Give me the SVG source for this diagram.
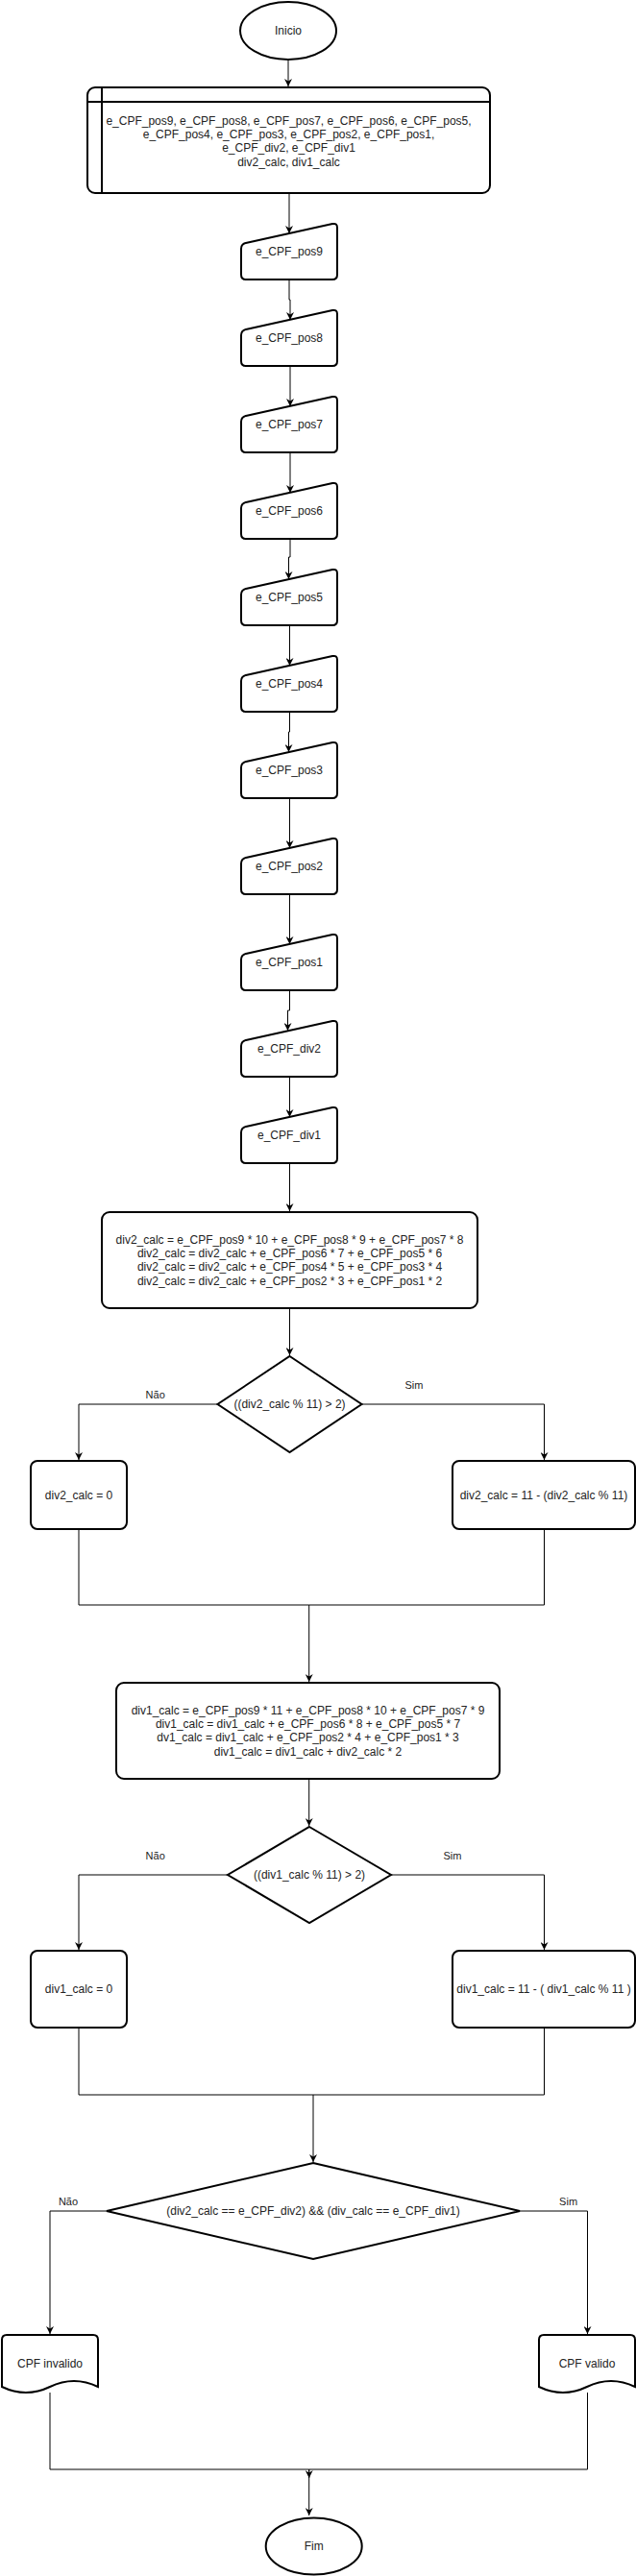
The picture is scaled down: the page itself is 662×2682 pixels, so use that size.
<svg xmlns="http://www.w3.org/2000/svg" width="662" height="2682" viewBox="0 0 662 2682">
<style>
.s{fill:#fff;stroke:#000;stroke-width:2}
.c{fill:none;stroke:#000;stroke-width:1}
.t{font-family:"Liberation Sans",Arial,sans-serif;font-size:12px;fill:#222;text-anchor:middle}
.l{font-size:11px}
</style>
<defs>
<marker id="a" viewBox="0 0 10 10" refX="10" refY="5" markerWidth="8" markerHeight="8" orient="auto" markerUnits="userSpaceOnUse"><path d="M0,0 L10,5 L0,10 L3,5 Z" fill="#000"/></marker>
<path id="mi" d="M0,27 Q0,22 4.9,20.9 L95.1,1.1 Q100,0 100,5 L100,54 Q100,59 95,59 L5,59 Q0,59 0,54 Z"/>
<path id="doc" d="M0,54 L0,5 Q0,0 5,0 L95,0 Q100,0 100,5 L100,54 Q75,42 50,54 Q25,66 0,54 Z"/>
</defs>
<rect width="662" height="2682" fill="#fff"/>
<g id="connectors">
<path class="c" marker-end="url(#a)" d="M300,62 V90"/>
<path class="c" marker-end="url(#a)" d="M301,202 V243"/>
<path class="c" marker-end="url(#a)" d="M301,291 V312 H302 V333"/>
<path class="c" marker-end="url(#a)" d="M302,381 V423"/>
<path class="c" marker-end="url(#a)" d="M302,471 V513"/>
<path class="c" marker-end="url(#a)" d="M302,562 V580 H300.5 V603"/>
<path class="c" marker-end="url(#a)" d="M301.5,652 V693"/>
<path class="c" marker-end="url(#a)" d="M301.5,742 V762 H300.5 V783"/>
<path class="c" marker-end="url(#a)" d="M301.5,832 V883"/>
<path class="c" marker-end="url(#a)" d="M301.5,932 V983"/>
<path class="c" marker-end="url(#a)" d="M301.5,1031 V1052 H299.5 V1073"/>
<path class="c" marker-end="url(#a)" d="M301.5,1122 V1163"/>
<path class="c" marker-end="url(#a)" d="M301.5,1211 V1261"/>
<path class="c" marker-end="url(#a)" d="M301.5,1362 V1411"/>
<path class="c" marker-end="url(#a)" d="M226.5,1462 H82 V1520"/>
<path class="c" marker-end="url(#a)" d="M376.5,1462 H566.5 V1520"/>
<path class="c" marker-end="url(#a)" d="M82,1592 V1671 H321.7 V1751"/>
<path class="c" d="M566.5,1592 V1671 H321.7"/>
<path class="c" marker-end="url(#a)" d="M321.7,1852 V1901"/>
<path class="c" marker-end="url(#a)" d="M237,1952 H82 V2030"/>
<path class="c" marker-end="url(#a)" d="M407,1952 H566.5 V2030"/>
<path class="c" marker-end="url(#a)" d="M82,2111 V2181 H326 V2251"/>
<path class="c" d="M566.5,2111 V2181 H326"/>
<path class="c" marker-end="url(#a)" d="M111,2302 H52 V2430"/>
<path class="c" marker-end="url(#a)" d="M541,2302 H611.5 V2430"/>
<path class="c" marker-end="url(#a)" d="M52,2491 V2571 H321.7 V2580"/>
<path class="c" marker-end="url(#a)" d="M611.5,2491 V2571 H321.7 V2619"/>
<text class="t l" x="161.7" y="1455.7">Não</text>
<text class="t l" x="431" y="1445.7">Sim</text>
<text class="t l" x="161.7" y="1935.7">Não</text>
<text class="t l" x="471" y="1935.7">Sim</text>
<text class="t l" x="71" y="2295.7">Não</text>
<text class="t l" x="591.6" y="2295.7">Sim</text>
</g>
<g id="inicio">
<ellipse class="s" cx="300" cy="32" rx="50" ry="30"/>
<text class="t" x="300" y="36.2">Inicio</text>
</g>
<g id="variaveis">
<rect class="s" x="91" y="91" width="419" height="110" rx="8"/>
<path class="s" d="M106,91 V201 M91,106 H510" fill="none"/>
<text class="t" x="300.5" y="129.6">e_CPF_pos9, e_CPF_pos8, e_CPF_pos7, e_CPF_pos6, e_CPF_pos5,</text>
<text class="t" x="300.5" y="144">e_CPF_pos4, e_CPF_pos3, e_CPF_pos2, e_CPF_pos1,</text>
<text class="t" x="300.5" y="158.4">e_CPF_div2, e_CPF_div1</text>
<text class="t" x="300.5" y="172.8">div2_calc, div1_calc</text>
</g>
<g id="in_pos9" transform="translate(251,232)"><use href="#mi" class="s"/><text class="t" x="50" y="34">e_CPF_pos9</text></g>
<g id="in_pos8" transform="translate(251,322)"><use href="#mi" class="s"/><text class="t" x="50" y="34">e_CPF_pos8</text></g>
<g id="in_pos7" transform="translate(251,412)"><use href="#mi" class="s"/><text class="t" x="50" y="34">e_CPF_pos7</text></g>
<g id="in_pos6" transform="translate(251,502)"><use href="#mi" class="s"/><text class="t" x="50" y="34">e_CPF_pos6</text></g>
<g id="in_pos5" transform="translate(251,592)"><use href="#mi" class="s"/><text class="t" x="50" y="34">e_CPF_pos5</text></g>
<g id="in_pos4" transform="translate(251,682)"><use href="#mi" class="s"/><text class="t" x="50" y="34">e_CPF_pos4</text></g>
<g id="in_pos3" transform="translate(251,772)"><use href="#mi" class="s"/><text class="t" x="50" y="34">e_CPF_pos3</text></g>
<g id="in_pos2" transform="translate(251,872)"><use href="#mi" class="s"/><text class="t" x="50" y="34">e_CPF_pos2</text></g>
<g id="in_pos1" transform="translate(251,972)"><use href="#mi" class="s"/><text class="t" x="50" y="34">e_CPF_pos1</text></g>
<g id="in_div2" transform="translate(251,1062)"><use href="#mi" class="s"/><text class="t" x="50" y="34">e_CPF_div2</text></g>
<g id="in_div1" transform="translate(251,1152)"><use href="#mi" class="s"/><text class="t" x="50" y="34">e_CPF_div1</text></g>
<g id="calc_div2">
<rect class="s" x="106" y="1262" width="391" height="100" rx="8"/>
<text class="t" x="301.5" y="1294.6">div2_calc = e_CPF_pos9 * 10 + e_CPF_pos8 * 9 + e_CPF_pos7 * 8</text>
<text class="t" x="301.5" y="1309">div2_calc = div2_calc + e_CPF_pos6 * 7 + e_CPF_pos5 * 6</text>
<text class="t" x="301.5" y="1323.4">div2_calc = div2_calc + e_CPF_pos4 * 5 + e_CPF_pos3 * 4</text>
<text class="t" x="301.5" y="1337.8">div2_calc = div2_calc + e_CPF_pos2 * 3 + e_CPF_pos1 * 2</text>
</g>
<g id="dec_div2">
<polygon class="s" points="301.5,1412 376.5,1462 301.5,1512 226.5,1462"/>
<text class="t" x="301.5" y="1466.2">((div2_calc % 11) &gt; 2)</text>
</g>
<g id="div2_zero">
<rect class="s" x="32" y="1521" width="100" height="71" rx="7"/>
<text class="t" x="82" y="1560.7">div2_calc = 0</text>
</g>
<g id="div2_sub">
<rect class="s" x="471" y="1521" width="190" height="71" rx="7"/>
<text class="t" x="566" y="1560.7">div2_calc = 11 - (div2_calc % 11)</text>
</g>
<g id="calc_div1">
<rect class="s" x="121" y="1752" width="399" height="100" rx="8"/>
<text class="t" x="320.5" y="1784.6">div1_calc = e_CPF_pos9 * 11 + e_CPF_pos8 * 10 + e_CPF_pos7 * 9</text>
<text class="t" x="320.5" y="1799">div1_calc = div1_calc + e_CPF_pos6 * 8 + e_CPF_pos5 * 7</text>
<text class="t" x="320.5" y="1813.4">dv1_calc = div1_calc + e_CPF_pos2 * 4 + e_CPF_pos1 * 3</text>
<text class="t" x="320.5" y="1827.8">div1_calc = div1_calc + div2_calc * 2</text>
</g>
<g id="dec_div1">
<polygon class="s" points="322,1902 407,1952 322,2002 237,1952"/>
<text class="t" x="322" y="1956.2">((div1_calc % 11) &gt; 2)</text>
</g>
<g id="div1_zero">
<rect class="s" x="32" y="2031" width="100" height="80" rx="7"/>
<text class="t" x="82" y="2075.2">div1_calc = 0</text>
</g>
<g id="div1_sub">
<rect class="s" x="471" y="2031" width="190" height="80" rx="7"/>
<text class="t" x="566" y="2075.2">div1_calc = 11 - ( div1_calc % 11 )</text>
</g>
<g id="dec_final">
<polygon class="s" points="326,2252 541,2302 326,2352 111,2302"/>
<text class="t" x="326" y="2306.2">(div2_calc == e_CPF_div2) &amp;&amp; (div_calc == e_CPF_div1)</text>
</g>
<g id="cpf_invalido" transform="translate(2,2431)"><use href="#doc" class="s"/><text class="t" x="50" y="34.2">CPF invalido</text></g>
<g id="cpf_valido" transform="translate(561,2431)"><use href="#doc" class="s"/><text class="t" x="50" y="34.2">CPF valido</text></g>
<g id="fim">
<ellipse class="s" cx="326.7" cy="2651" rx="50" ry="29.5"/>
<text class="t" x="326.7" y="2655.2">Fim</text>
</g>
</svg>
